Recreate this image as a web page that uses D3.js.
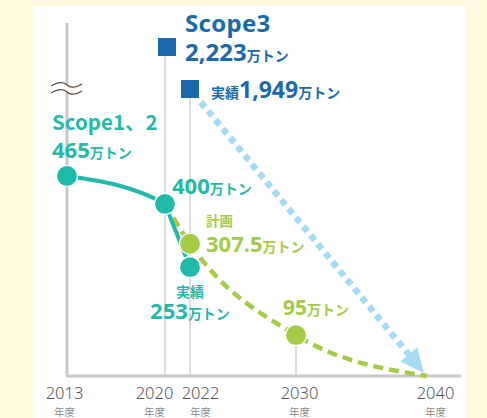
<!DOCTYPE html>
<html><head><meta charset="utf-8">
<script src="https://cdn.jsdelivr.net/npm/d3@7"></script>
<style>
html,body{margin:0;padding:0;background:#fffadf;}
svg{display:block;}
text{font-family:"Noto Sans CJK JP","Noto Sans",sans-serif;}
.lat{font-family:"Noto Sans","Noto Sans CJK JP",sans-serif;}
</style></head>
<body>
<svg id="c" width="487" height="418"></svg>
<script>
// ---- data ----
const tickYears = [2013, 2020, 2022, 2030, 2040];
const tickUnit = "年度";
const actualYears = [2013, 2020, 2022];
const actualValues = [465, 400, 253];
const planYears = [2020, 2022, 2030, 2040];
const planValues = [400, 307.5, 95, 0];
const scope3Years = [2020, 2022];
const scope3Values = [2223, 1949];
const scope3TargetYear = 2040;
const scope3TargetValue = 0;

// ---- layout ----
const W = 487, H = 418;
const svg = d3.select("#c");
const C = {blue:"#1b69ad", teal:"#1fbaa8", lime:"#a5cb45", sky:"#a6dbf6", axis:"#c8c8cb", grid:"#d6d6d8", tick:"#555"};

svg.append("rect").attr("x",34).attr("y",6).attr("width",432).attr("height",H-6).attr("fill","#fff");

const x = d3.scaleLinear().domain(tickYears).range([67,165,190,296,427]);
const y = d3.scaleLinear().domain([0,465]).range([376,176]);
const y3 = d3.scaleLinear().domain([1949,2223]).range([89,47]);
const tickShift = {2013:-3, 2020:-11, 2022:10, 2030:3, 2040:8};

// vertical guide lines
svg.append("line").attr("x1",x(2020)).attr("x2",x(2020)).attr("y1",y3(2223)).attr("y2",y(0))
  .attr("stroke",C.grid).attr("stroke-width",1.6);
svg.append("line").attr("x1",x(2022)).attr("x2",x(2022)).attr("y1",y3(1949)).attr("y2",y(0))
  .attr("stroke",C.grid).attr("stroke-width",1.6);
svg.append("line").attr("x1",x(2030)).attr("x2",x(2030)).attr("y1",y(95)).attr("y2",y(0))
  .attr("stroke",C.grid).attr("stroke-width",1.6);

// y axis line
svg.append("line").attr("x1",x(2013)).attr("x2",x(2013)).attr("y1",23).attr("y2",y(0))
  .attr("stroke",C.axis).attr("stroke-width",3);
// x axis via d3
const xAxis = d3.axisBottom(x).tickValues(tickYears).tickSize(0).tickFormat(d3.format("d"));
const gx = svg.append("g").attr("transform",`translate(0,${y(0)})`).call(xAxis);
gx.select(".domain").attr("d",`M${x(2013)-1},0H461`).attr("stroke",C.axis).attr("stroke-width",3);
gx.selectAll(".tick text").attr("y",23).attr("dy",null).attr("x",d=>tickShift[d]).attr("class","lat")
  .attr("fill",C.tick).attr("font-size",16.5).attr("font-weight",300);
gx.selectAll(".tick").append("text").attr("y",40).attr("x",d=>tickShift[d])
  .attr("fill",C.tick).attr("font-size",10.5).attr("font-weight",300).attr("text-anchor","middle").text(tickUnit);

// break mark
const wave = (yy)=>`M51,${yy+1} C58,${yy-3} 64,${yy-3} 67,${yy} S76,${yy+3} 82,${yy-1}`;
svg.append("path").attr("d",wave(85)+` L82,${91} C76,${95} 70,${95} 67,${92} S57,${89} 51,${93} Z`).attr("fill","#fff");
[85,92].forEach(v=>svg.append("path").attr("d",wave(v)).attr("fill","none").attr("stroke","#5b4b3c").attr("stroke-width",1.3));

// scope3 dotted arrow
const s0 = [x(2022), y3(1949)];
const s1 = [x(scope3TargetYear)-3, y(scope3TargetValue)-3];
const dx = s1[0]-s0[0], dy = s1[1]-s0[1], L = Math.hypot(dx,dy), ux = dx/L, uy = dy/L;
const startT = 17, headLen = 24, headW = 11;
const lineEnd = [s1[0]-ux*(headLen-2), s1[1]-uy*(headLen-2)];
svg.append("line").attr("x1",s0[0]+ux*startT).attr("y1",s0[1]+uy*startT)
  .attr("x2",lineEnd[0]).attr("y2",lineEnd[1])
  .attr("stroke",C.sky).attr("stroke-width",6.5).attr("stroke-dasharray","6.5,5");
const hb = [s1[0]-ux*headLen, s1[1]-uy*headLen];
svg.append("path").attr("d",`M${s1[0]},${s1[1]}L${hb[0]-uy*headW},${hb[1]+ux*headW}L${hb[0]+uy*headW},${hb[1]-ux*headW}Z`)
  .attr("fill",C.sky);

// lines
const line = d3.line().x(d=>x(d[0])).y(d=>y(d[1])).curve(d3.curveMonotoneX);
svg.append("path").datum(planYears.map((yr,i)=>[yr,planValues[i]]))
  .attr("d",line).attr("fill","none").attr("stroke",C.lime).attr("stroke-width",4.5).attr("stroke-dasharray","10,6");
// actual: curved part up to 2020, then steep part 2020->2022
const actualPts = actualYears.map((yr,i)=>[yr,actualValues[i]]);
svg.append("clipPath").attr("id","clipA").append("rect").attr("x",0).attr("y",0).attr("width",x(2020)).attr("height",H);
svg.append("path").datum(actualPts).attr("clip-path","url(#clipA)")
  .attr("d",line).attr("fill","none").attr("stroke",C.teal).attr("stroke-width",4);
svg.append("path").datum(actualPts.slice(1))
  .attr("d",d3.line().x(d=>x(d[0])).y(d=>y(d[1])).curve(d3.curveLinear))
  .attr("fill","none").attr("stroke",C.teal).attr("stroke-width",4);

// points
const planPts = planYears.map((yr,i)=>[yr,planValues[i]]).filter(d=>d[0]===2022||d[0]===2030);
svg.selectAll(".pp").data(planPts).join("circle").attr("cx",d=>x(d[0])).attr("cy",d=>y(d[1])).attr("r",10.5)
  .attr("fill",C.lime).attr("stroke","#fff").attr("stroke-width",1.2);
svg.selectAll(".ap").data(actualPts).join("circle")
  .attr("cx",d=>x(d[0])).attr("cy",d=>y(d[1])).attr("r",10.5)
  .attr("fill",C.teal).attr("stroke","#fff").attr("stroke-width",1.2);
svg.selectAll(".sq").data(scope3Years.map((yr,i)=>[yr,scope3Values[i]])).join("rect")
  .attr("x",d=>x(d[0])-(d[0]===2020?7:9)).attr("y",d=>y3(d[1])-9).attr("width",18).attr("height",18)
  .attr("fill",C.blue);

// labels
function label(xx, yy, parts, color, anchor){
  const t = svg.append("text").attr("x",xx).attr("y",yy).attr("fill",color).attr("font-weight",700)
    .attr("text-anchor",anchor||"start");
  parts.forEach(p=>{
    const s = t.append("tspan").attr("font-size",p[1]).text(p[0]);
    if (/^[0-9A-Za-z.,]+$/.test(String(p[0]))) s.attr("class","lat");
  });
  return t;
}
const fmt = d3.format(",");
const unit = "万トン";
label(185, 32, [["Scope3",24]], C.blue).attr("letter-spacing",0.3);
label(185, 61, [[fmt(scope3Values[0]),24],[unit,14]], C.blue);
label(211, 98, [["実績",14],[fmt(scope3Values[1]),23],[unit,14]], C.blue);
label(52, 130, [["Scope1、2",20.5]], C.teal);
label(52, 158, [[actualValues[0],22],[unit,14]], C.teal);
label(172, 194, [[actualValues[1],22],[unit,14]], C.teal);
label(206, 226, [["計画",13.5]], C.lime);
label(206, 252, [[planValues[1],22],[unit,14]], C.lime);
label(x(2022), 297, [["実績",14]], C.teal, "middle");
label(x(2022), 319, [[actualValues[2],22],[unit,14]], C.teal, "middle");
label(283, 315, [[planValues[2],21],[unit,14]], C.lime);
</script>
</body></html>
